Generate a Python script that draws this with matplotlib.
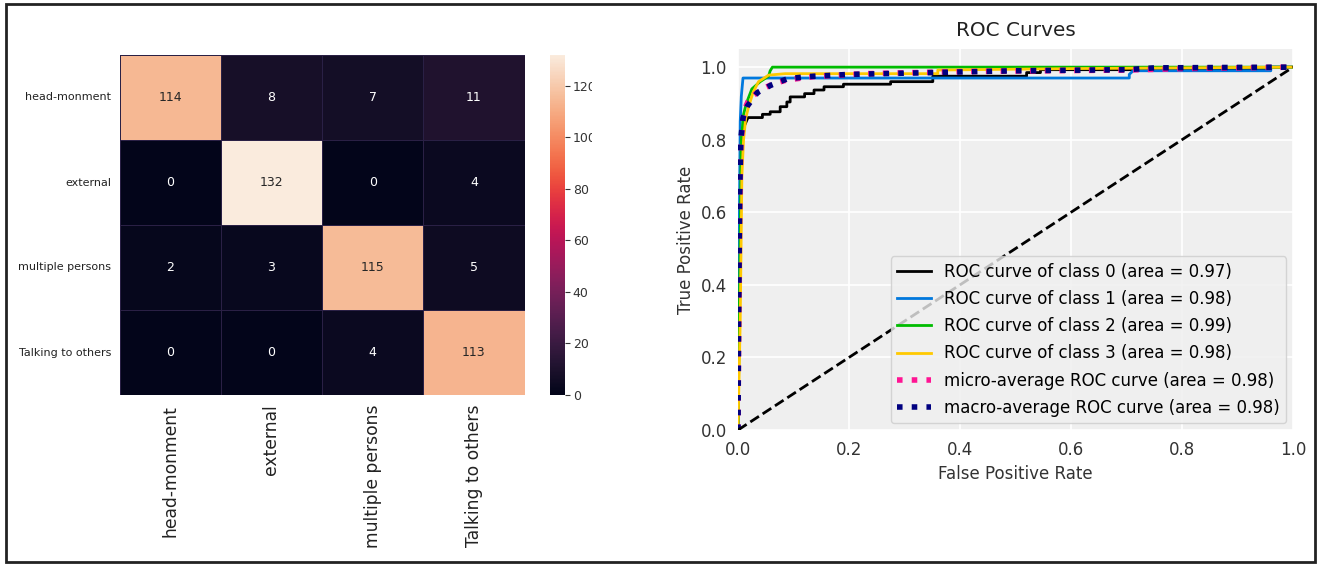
import matplotlib
matplotlib.use("Agg")
import matplotlib.pyplot as plt
import matplotlib.patches as mpatches
from matplotlib.transforms import Bbox, TransformedBbox
import numpy as np
import seaborn as sns

# ---- confusion matrix ----
class_names = ["head-monment", "external", "multiple persons", "Talking to others"]
cm_row_head = [114, 8, 7, 11]
cm_row_external = [0, 132, 0, 4]
cm_row_multiple = [2, 3, 115, 5]
cm_row_talking = [0, 0, 4, 113]
cbar_ticks = [0, 20, 40, 60, 80, 100, 120]

# ---- ROC curves ----
fpr_0 = [0.0, 0.002, 0.004, 0.008, 0.012, 0.018, 0.044, 0.044, 0.058, 0.058, 0.076,
         0.076, 0.088, 0.088, 0.094, 0.094, 0.12, 0.12, 0.137, 0.137, 0.155, 0.155,
         0.19, 0.19, 0.275, 0.275, 0.351, 0.351, 0.52, 0.52, 0.545, 0.545, 0.955,
         0.955, 1.0]
tpr_0 = [0.0, 0.30, 0.62, 0.80, 0.84, 0.861, 0.861, 0.870, 0.870, 0.877, 0.877,
         0.891, 0.891, 0.904, 0.904, 0.918, 0.918, 0.927, 0.927, 0.937, 0.937, 0.946,
         0.946, 0.953, 0.953, 0.960, 0.960, 0.975, 0.975, 0.985, 0.985, 0.993, 0.993,
         1.0, 1.0]
fpr_1 = [0.0, 0.002, 0.004, 0.006, 0.009, 0.705, 0.705, 0.712, 0.96, 0.96, 1.0]
tpr_1 = [0.0, 0.50, 0.85, 0.92, 0.970, 0.970, 0.980, 0.990, 0.990, 1.0, 1.0]
fpr_2 = [0.0, 0.003, 0.006, 0.010, 0.015, 0.025, 0.040, 0.055, 0.058, 0.062, 1.0]
tpr_2 = [0.0, 0.40, 0.80, 0.87, 0.90, 0.94, 0.96, 0.975, 0.99, 1.0, 1.0]
fpr_3 = [0.0, 0.004, 0.007, 0.010, 0.014, 0.019, 0.027, 0.037, 0.055, 0.085, 0.36,
         0.36, 0.60, 1.0]
tpr_3 = [0.0, 0.30, 0.70, 0.80, 0.86, 0.89, 0.93, 0.96, 0.978, 0.982, 0.982,
         0.992, 0.996, 1.0]
fpr_micro = [0.0, 0.001, 0.003, 0.005, 0.008, 0.011, 0.018, 0.026, 0.044, 0.065,
             0.089, 0.137, 0.185, 0.233, 0.29, 0.35, 0.41, 0.55, 0.70, 0.80, 1.0]
tpr_micro = [0.0, 0.25, 0.60, 0.78, 0.84, 0.88, 0.905, 0.92, 0.94, 0.955, 0.965,
             0.974, 0.978, 0.982, 0.984, 0.986, 0.988, 0.990, 0.992, 0.996, 1.0]
fpr_macro = [0.0, 0.001, 0.003, 0.005, 0.009, 0.017, 0.035, 0.059, 0.089, 0.125,
             0.20, 0.35, 0.50, 0.70, 0.75, 1.0]
tpr_macro = [0.0, 0.30, 0.65, 0.80, 0.86, 0.893, 0.93, 0.95, 0.968, 0.974, 0.980,
             0.985, 0.990, 0.993, 0.998, 1.0]
auc_classes = [0.97, 0.98, 0.99, 0.98]
auc_micro = 0.98
auc_macro = 0.98

W, H = 1322, 564
fig = plt.figure(figsize=(W / 100, H / 100), dpi=100)
fig.patch.set_facecolor("white")


def px_axes(left, top, right, bottom):
    return fig.add_axes([left / W, 1 - bottom / H, (right - left) / W, (bottom - top) / H])


# ---------------- left panel: confusion matrix heatmap ----------------
ax_cm = px_axes(119.5, 55, 524.5, 395)
cax = px_axes(550, 55, 565, 395)
cm = np.array([cm_row_head, cm_row_external, cm_row_multiple, cm_row_talking])
sns.heatmap(cm, annot=True, fmt="d", cmap="rocket", vmin=0, ax=ax_cm, cbar_ax=cax,
            xticklabels=class_names, yticklabels=class_names,
            linewidths=0.6, linecolor="#2a2045",
            annot_kws={"size": 9})
ax_cm.tick_params(axis="y", length=0, pad=6, labelsize=8, labelcolor="#222222",
                  labelrotation=0)
ax_cm.tick_params(axis="x", length=0, pad=7, labelsize=12.3, labelcolor="#222222",
                  labelrotation=90)

cax.set_yticks(cbar_ticks)
cax.tick_params(axis="y", length=3.5, width=0.8, color="#333333", labelsize=9,
                labelcolor="#333333", pad=2)
clip = TransformedBbox(Bbox.from_extents(0, 0, 592 / W, 1), fig.transFigure)
for lab in cax.get_yticklabels():
    lab.set_clip_box(clip)
    lab.set_clip_on(True)

# ---------------- right panel: ROC curves ----------------
ax = px_axes(738, 49, 1293, 430)
ax.set_facecolor("#efefef")
for s in ax.spines.values():
    s.set_visible(False)
ax.grid(True, color="white", linewidth=1.2)
ax.set_axisbelow(True)

class_fprs = [fpr_0, fpr_1, fpr_2, fpr_3]
class_tprs = [tpr_0, tpr_1, tpr_2, tpr_3]
for i, (f, t) in enumerate(zip(class_fprs, class_tprs)):
    color = plt.cm.nipy_spectral(float(i) / len(class_fprs))
    ax.plot(f, t, lw=2, color=color,
            label="ROC curve of class {0} (area = {1:0.2f})".format(i, auc_classes[i]))
ax.plot(fpr_micro, tpr_micro, color="deeppink", linestyle=":", linewidth=4,
        label="micro-average ROC curve (area = {0:0.2f})".format(auc_micro))
ax.plot(fpr_macro, tpr_macro, color="navy", linestyle=":", linewidth=4,
        label="macro-average ROC curve (area = {0:0.2f})".format(auc_macro))
ax.plot([0, 1], [0, 1], "k--", lw=2)

ax.set_xlim(0.0, 1.0)
ax.set_ylim(0.0, 1.05)
ax.set_xticks([0.0, 0.2, 0.4, 0.6, 0.8, 1.0])
ax.set_yticks([0.0, 0.2, 0.4, 0.6, 0.8, 1.0])
ax.tick_params(length=0, pad=8, labelsize=12, labelcolor="#333333")
ax.set_title("ROC Curves", fontsize=14.4, color="#222222", pad=9)
ax.set_xlabel("False Positive Rate", fontsize=12, color="#333333")
ax.set_ylabel("True Positive Rate", fontsize=12, color="#333333")
leg = ax.legend(loc="lower right", fontsize=12, framealpha=0.8, labelspacing=0.55,
                facecolor="#efefef", edgecolor="#cccccc", borderaxespad=0.4)
leg.get_frame().set_linewidth(1.0)

# outer border around both panels
fig.patches.append(mpatches.Rectangle((6 / W, 2 / H), (1315 - 6) / W, (562 - 4) / H,
                                      transform=fig.transFigure, fill=False,
                                      edgecolor="#222222", linewidth=2))

fig.savefig("out.png", dpi=100)
